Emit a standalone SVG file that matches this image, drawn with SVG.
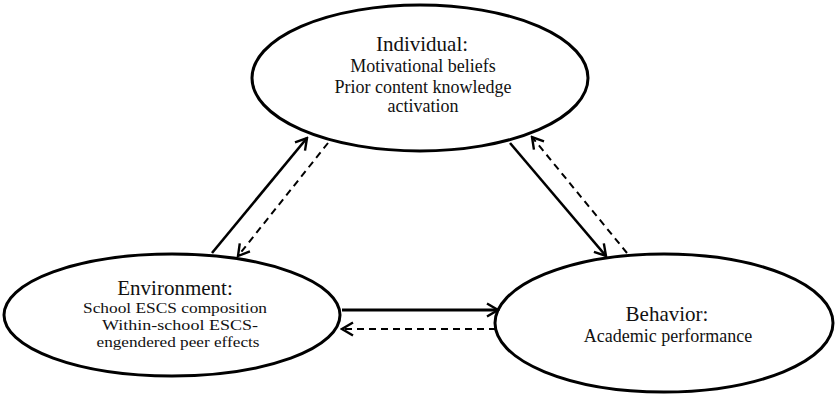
<svg xmlns="http://www.w3.org/2000/svg" width="835" height="394" viewBox="0 0 835 394">
<style>
.node ellipse{fill:#fff;stroke:#000;stroke-width:3}
text{font-family:"Liberation Serif","Times New Roman",serif;fill:#111;text-anchor:middle}
.h{font-size:21px}
.b{font-size:18px}
.e{font-size:15px}
.conn line{stroke:#000;fill:none}
.solid{stroke-width:2.6}
.dash{stroke-width:2;stroke-dasharray:7 5}
</style>
<defs>
<marker id="ah" markerUnits="userSpaceOnUse" markerWidth="16" markerHeight="16" viewBox="-14 -8 16 16" refX="0" refY="0" orient="auto">
<path d="M-11,-6.5 L0,0 L-11,6.5" fill="none" stroke="#000" stroke-width="2.4"/>
</marker>
</defs>
<rect width="835" height="394" fill="#fff"/>
<g id="individual" class="node">
<ellipse cx="420" cy="78" rx="168" ry="73"/>
<text class="h" x="422" y="51">Individual:</text>
<text class="b" x="423" y="72">Motivational beliefs</text>
<text class="b" x="423" y="93">Prior content knowledge</text>
<text class="b" x="423" y="112">activation</text>
</g>
<g id="environment" class="node">
<ellipse cx="172" cy="315" rx="168" ry="61"/>
<text class="h" x="175" y="295">Environment:</text>
<text class="e" x="175" y="313" textLength="184" lengthAdjust="spacingAndGlyphs">School ESCS composition</text>
<text class="e" x="180" y="330" textLength="156" lengthAdjust="spacingAndGlyphs">Within-school ESCS-</text>
<text class="e" x="178" y="347" textLength="163" lengthAdjust="spacingAndGlyphs">engendered peer effects</text>
</g>
<g id="behavior" class="node">
<ellipse cx="664" cy="323" rx="169" ry="69"/>
<text class="h" x="667" y="321">Behavior:</text>
<text class="b" x="668" y="342">Academic performance</text>
</g>
<g id="connectors" class="conn">
<line class="solid" x1="212" y1="253" x2="307" y2="138" marker-end="url(#ah)"/>
<line class="dash" x1="328" y1="143" x2="238" y2="256" marker-end="url(#ah)"/>
<line class="solid" x1="510" y1="143" x2="606" y2="256" marker-end="url(#ah)"/>
<line class="dash" x1="627" y1="253" x2="532" y2="137" marker-end="url(#ah)"/>
<line class="solid" x1="342" y1="310" x2="498" y2="310" marker-end="url(#ah)" style="stroke-width:3.2"/>
<line class="dash" x1="496" y1="329" x2="342" y2="329" marker-end="url(#ah)"/>
</g>
</svg>
